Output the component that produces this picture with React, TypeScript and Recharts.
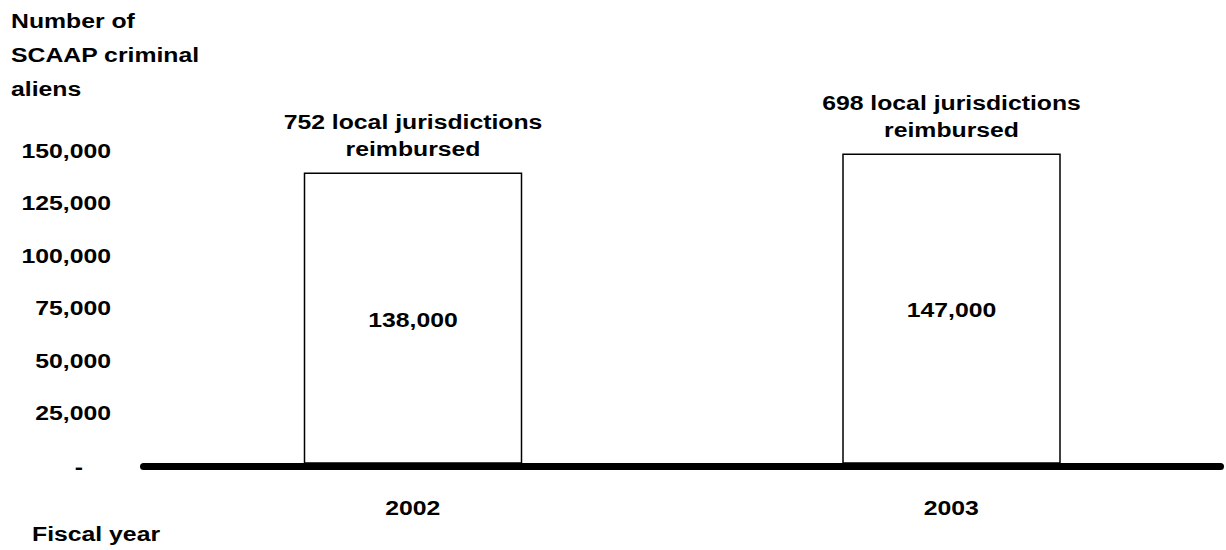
import React from 'react';
import { BarChart, Bar, XAxis, YAxis, LabelList } from 'recharts';

// fiscal years and SCAAP criminal aliens counted
const years = ['2002', '2003'];
const aliens = [138000, 147000];
const reimbursedNotes = [
  ['752 local jurisdictions', 'reimbursed'],
  ['698 local jurisdictions', 'reimbursed']
];
const yTicks = [0, 25000, 50000, 75000, 100000, 125000, 150000];
const titleLines = ['Number of', 'SCAAP criminal', 'aliens'];
const xTitle = 'Fiscal year';

const FONT = '"Liberation Sans", Arial, Helvetica, sans-serif';
const FS = 21;
const SX = 1.18; // source image is stretched sideways

const chartData = years.map((year, i) => ({
  year,
  value: aliens[i],
  note: reimbursedNotes[i]
}));

// text stretched horizontally around its anchor point
function Stretched({ x, y, anchor = 'middle', children }: any) {
  return (
    <text
      transform={`translate(${x}, ${y}) scale(${SX}, 1)`}
      textAnchor={anchor}
      fontFamily={FONT}
      fontSize={FS}
      fontWeight="bold"
      fill="#000"
    >
      {children}
    </text>
  );
}

const YTick = (props: any) => {
  const { y, payload } = props;
  if (payload.value === 0) {
    return <Stretched x={83} y={y + 10.5} anchor="end">-</Stretched>;
  }
  return (
    <Stretched x={111} y={y + 9.5} anchor="end">
      {payload.value.toLocaleString('en-US')}
    </Stretched>
  );
};

const XTick = (props: any) => {
  const { x, payload } = props;
  return <Stretched x={x} y={515}>{payload.value}</Stretched>;
};

const ValueLabel = (props: any) => {
  const { x, y, width, height, value } = props;
  return (
    <Stretched x={x + width / 2} y={y + height / 2 + 8.5}>
      {Number(value).toLocaleString('en-US')}
    </Stretched>
  );
};

const NoteLabel = (props: any) => {
  const { x, y, width, value } = props;
  const lines: string[] = value || [];
  return (
    <g>
      <Stretched x={x + width / 2} y={y - 44}>{lines[0]}</Stretched>
      <Stretched x={x + width / 2} y={y - 17}>{lines[1]}</Stretched>
    </g>
  );
};

const Titles = () => (
  <g>
    {titleLines.map((line, i) => (
      <Stretched key={i} x={11} y={27.5 + i * 34} anchor="start">
        {line}
      </Stretched>
    ))}
    <Stretched x={32} y={541} anchor="start">{xTitle}</Stretched>
  </g>
);

export default function App() {
  return (
    <div style={{ width: 1226, height: 550, background: '#fff' }}>
      <style>{'body{margin:0;background:#fff}'}</style>
      <BarChart
        width={1226}
        height={550}
        data={chartData}
        margin={{ top: 148, right: 5.5, left: 0, bottom: 0 }}
      >
        <YAxis
          type="number"
          domain={[0, 150000]}
          ticks={yTicks}
          width={143.5}
          axisLine={false}
          tickLine={false}
          tick={<YTick />}
          interval={0}
          label={{ content: () => <Titles /> }}
        />
        <XAxis
          dataKey="year"
          height={87}
          axisLine={{
            stroke: '#000',
            strokeWidth: 7,
            strokeLinecap: 'round',
            transform: 'translate(0 3.5)'
          }}
          tickLine={false}
          tick={<XTick />}
          interval={0}
        />
        <Bar
          dataKey="value"
          fill="#fff"
          stroke="#000"
          strokeWidth={1.5}
          barSize={217}
          isAnimationActive={false}
        >
          <LabelList dataKey="value" content={<ValueLabel />} />
          <LabelList dataKey="note" content={<NoteLabel />} />
        </Bar>
      </BarChart>
    </div>
  );
}
